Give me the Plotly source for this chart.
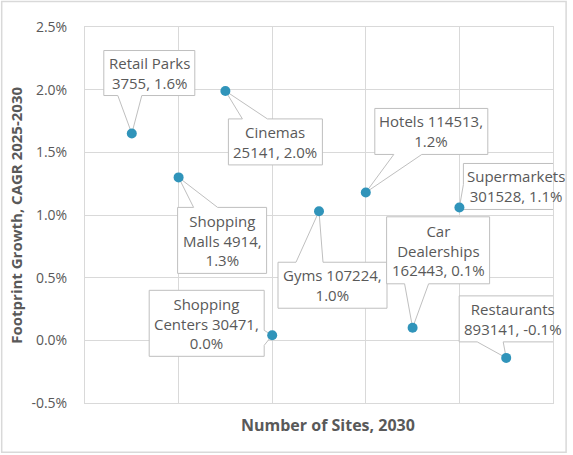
import plotly.graph_objects as go

# sites ranked by 2030 count, x is just the rank
categories = ["Retail Parks", "Shopping Malls", "Cinemas", "Shopping Centers", "Gyms",
              "Hotels", "Car Dealerships", "Supermarkets", "Restaurants"]
site_rank = [1, 2, 3, 4, 5, 6, 7, 8, 9]
sites_2030 = [3755, 4914, 25141, 30471, 107224, 114513, 162443, 301528, 893141]
cagr = [1.65, 1.30, 1.99, 0.04, 1.03, 1.18, 0.10, 1.06, -0.14]

labels = [
    "Retail Parks<br>3755, 1.6%",
    "Shopping<br>Malls 4914,<br>1.3%",
    "Cinemas<br>25141, 2.0%",
    "Shopping<br>Centers 30471,<br>0.0%",
    "Gyms 107224,<br>1.0%",
    "Hotels 114513,<br>1.2%",
    "Car<br>Dealerships<br>162443, 0.1%",
    "Supermarkets<br>301528, 1.1%",
    "Restaurants<br>893141, -0.1%",
]

y_tickvals = [-0.5, 0.0, 0.5, 1.0, 1.5, 2.0, 2.5]
y_ticktext = ["-0.5%", "0.0%", "0.5%", "1.0%", "1.5%", "2.0%", "2.5%"]

# callout geometry in pixels relative to the point (y up):
# box (x0, x1, ytop, ybottom), wedge side and base
callouts = [
    ((-28, 63, 83, 38), "bottom", (-14, 10)),
    ((-1, 88, -30, -96), "top", (15, 39)),
    ((3, 97, -28, -74), "top", (17, 42)),
    ((-123, -8, 45, -21), "right", (5, -10)),
    ((-41, 68, -51, -97), "top", (-23, 4)),
    ((9, 122, 84, 38), "bottom", (28, 56)),
    ((-26, 77, 111, 44), "bottom", (-8, 16)),
    ((4, 110, 44, -2), "left", (23, 0)),
    ((-47, 60, 62, 16), "bottom", (-29, -3)),
]

TXT = "#595959"
FONT = "Open Sans"


def bubble_path(box, side, base):
    x0, x1, yt, yb = box
    b0, b1 = base
    if side == "bottom":
        pts = [(x0, yt), (x1, yt), (x1, yb), (max(b0, b1), yb), (0, 0), (min(b0, b1), yb), (x0, yb)]
    elif side == "top":
        pts = [(x0, yt), (b0, yt), (0, 0), (b1, yt), (x1, yt), (x1, yb), (x0, yb)]
    elif side == "right":
        pts = [(x0, yt), (x1, yt), (x1, b0), (0, 0), (x1, b1), (x1, yb), (x0, yb)]
    else:
        pts = [(x0, yt), (x1, yt), (x1, yb), (x0, yb), (x0, b1), (0, 0), (x0, b0)]
    return "M " + " L ".join(f"{px},{py}" for px, py in pts) + " Z"


fig = go.Figure()
fig.add_trace(go.Scatter(
    x=site_rank, y=cagr, mode="markers",
    marker=dict(color="#3094BA", size=10),
    text=categories, hoverinfo="text",
))

shapes = []
annotations = []
for i in range(len(categories)):
    box, side, base = callouts[i]
    shapes.append(dict(
        type="path", layer="between",
        xref="x", yref="y", xsizemode="pixel", ysizemode="pixel",
        xanchor=site_rank[i], yanchor=cagr[i],
        path=bubble_path(box, side, base),
        fillcolor="white", line=dict(color="#BFBFBF", width=1),
    ))
    annotations.append(dict(
        x=site_rank[i], y=cagr[i], xref="x", yref="y",
        text=labels[i], showarrow=False,
        xshift=(box[0] + box[1]) / 2, yshift=(box[2] + box[3]) / 2,
        font=dict(family=FONT, size=15, color=TXT),
        align="center",
    ))

# outer frame of the whole chart
shapes.append(dict(type="rect", xref="paper", yref="paper",
                   x0=-0.178, x1=1.028, y0=-0.131, y1=1.068,
                   line=dict(color="#D9D9D9", width=1.5), layer="below"))

annotations.append(dict(
    text="<b>Footprint Growth, CAGR 2025-2030</b>", xref="paper", yref="paper",
    x=-0.148, y=0.5, xanchor="center", yanchor="middle", textangle=-90, showarrow=False,
    font=dict(family=FONT, size=15, color=TXT),
))
annotations.append(dict(
    text="<b>Number of Sites, 2030</b>", xref="paper", yref="paper",
    x=0.52, y=-0.058, xanchor="center", yanchor="middle", showarrow=False,
    font=dict(family=FONT, size=16, color=TXT),
))

fig.update_layout(
    width=573, height=455,
    margin=dict(l=85, r=20, t=27, b=52),
    paper_bgcolor="white", plot_bgcolor="white",
    showlegend=False,
    shapes=shapes, annotations=annotations,
    font=dict(family=FONT, color=TXT),
)
fig.update_xaxes(range=[0, 10], dtick=2, showticklabels=False,
                 showgrid=True, gridcolor="#D9D9D9", zeroline=False,
                 showline=True, linecolor="#D9D9D9", mirror=True)
fig.update_yaxes(range=[-0.5, 2.5], tickvals=y_tickvals, ticktext=y_ticktext,
                 showgrid=True, gridcolor="#D9D9D9", zeroline=False,
                 showline=True, linecolor="#D9D9D9", mirror=True,
                 ticklabelstandoff=14, tickfont=dict(family=FONT, size=14, color=TXT))

fig.write_html("out.html", config={"displayModeBar": False},
               post_script="document.body.style.margin='0';document.body.style.overflow='hidden';")
